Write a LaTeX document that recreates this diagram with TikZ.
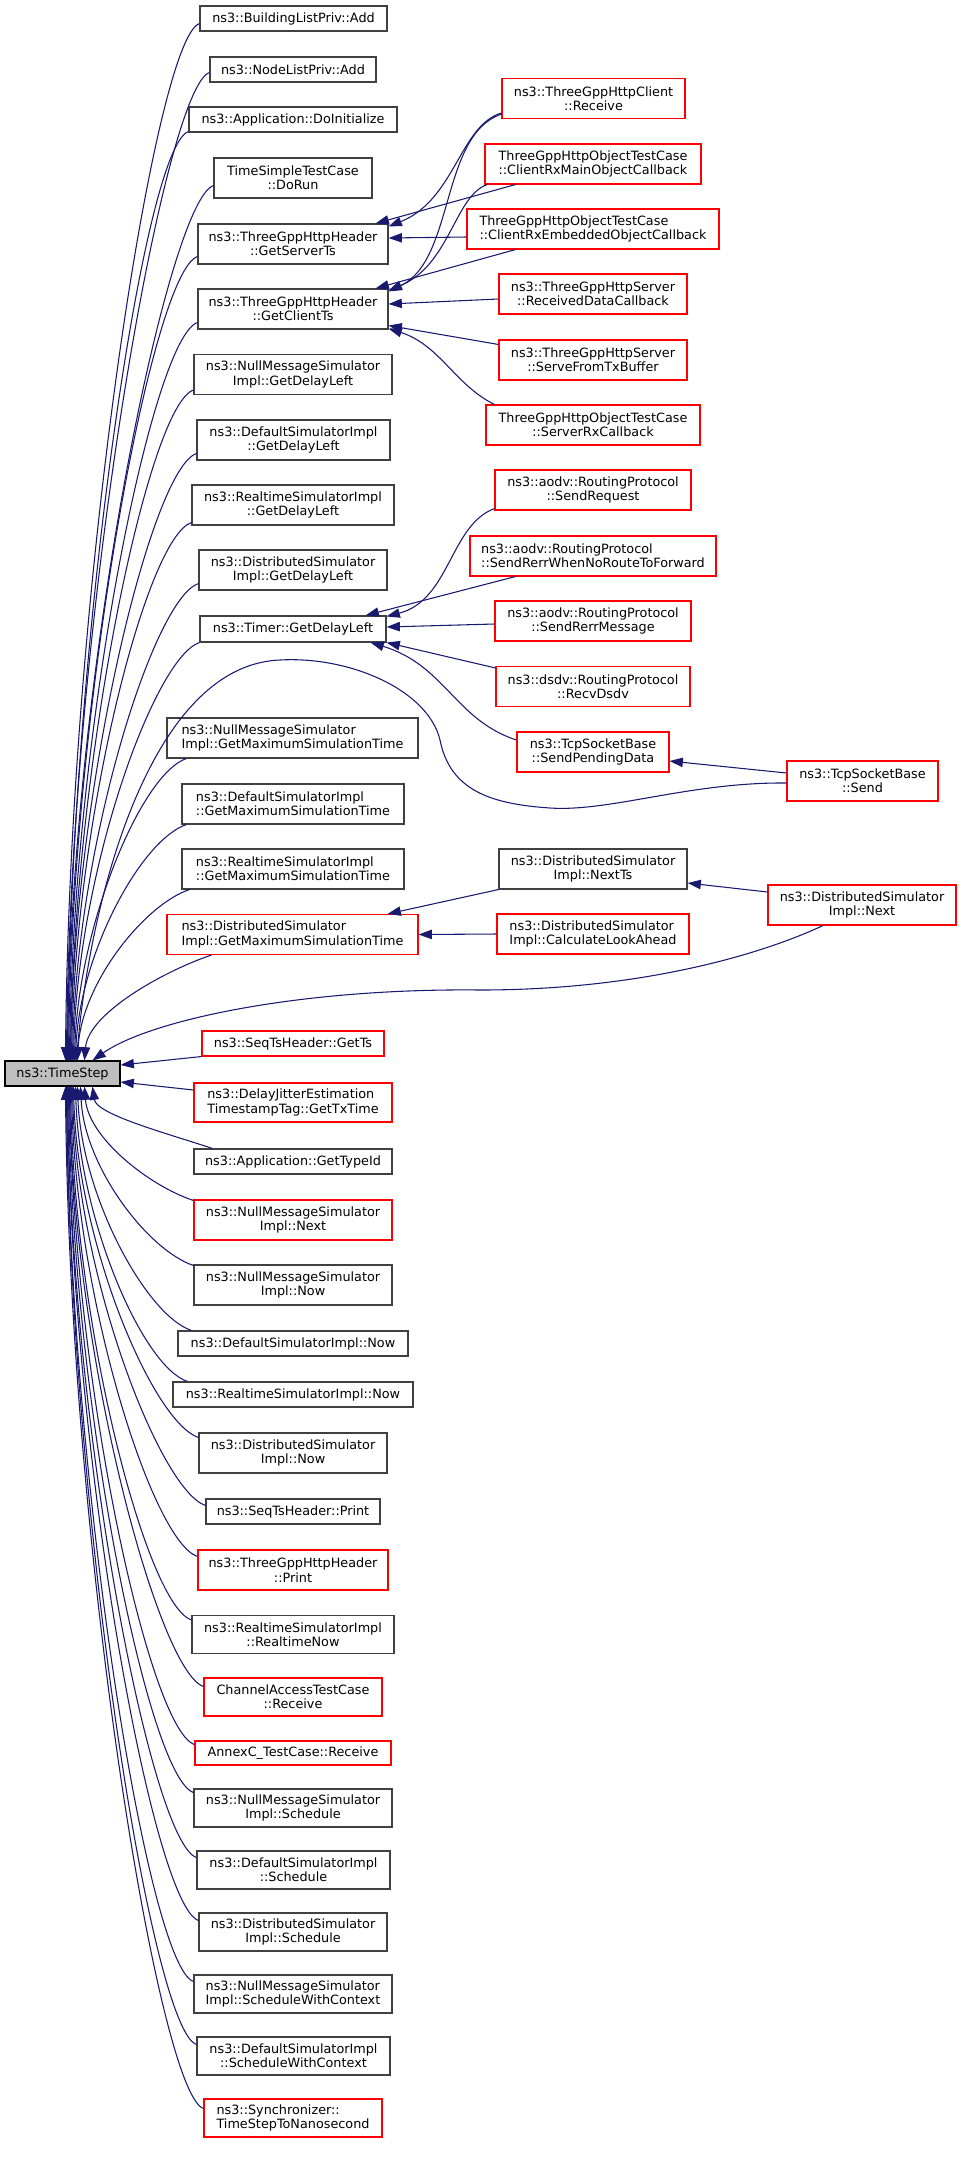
\documentclass[tikz,border=0pt]{standalone}
\usepackage{fontspec}
\setmainfont{DejaVu Sans}
\usetikzlibrary{arrows.meta,calc}

\definecolor{edgeblue}{HTML}{191970}
\definecolor{boxgray}{HTML}{404040}
\definecolor{tsfill}{HTML}{BFBFBF}

\begin{document}
\begin{tikzpicture}[x=0.75pt, y=-0.75pt,
		fn/.style={draw=boxgray, line width=0.8pt, inner sep=0pt, font=\fontsize{9.6}{10.7}\selectfont, align=center},
		trunc/.style={fn, draw=red},
		wd/.style={minimum width=#1*0.75pt},
		ht/.style={minimum height=#1*0.75pt},
		call/.style={edgeblue, line width=0.8pt, -{Triangle[length=10pt, width=7pt]}}]
		
		\useasboundingbox (0,0) rectangle (963,2171);
		
		% callee
		\node[fn, fill=tsfill, draw=black, wd=115, ht=25] (ts) at (62.5,1073.5) {ns3::TimeStep};
		
		% callers, upper half
		\node[fn, wd=187, ht=25] (bldadd) at (293.5,18.5) {ns3::BuildingListPriv::Add};
		\node[fn, wd=166, ht=25] (nodeadd) at (293,69.5) {ns3::NodeListPriv::Add};
		\node[fn, wd=208, ht=25] (appinit) at (293,119.5) {ns3::Application::DoInitialize};
		\node[fn, wd=158, ht=40] (tsrun) at (293,178) {TimeSimpleTestCase\\::DoRun};
		\node[fn, wd=190, ht=40] (getserver) at (293,244) {ns3::ThreeGppHttpHeader\\::GetServerTs};
		\node[fn, wd=190, ht=40] (getclient) at (293,309) {ns3::ThreeGppHttpHeader\\::GetClientTs};
		\node[fn, wd=198, ht=40] (nmdelay) at (293,374.5) {ns3::NullMessageSimulator\\Impl::GetDelayLeft};
		\node[fn, wd=193, ht=40] (defdelay) at (293.5,440) {ns3::DefaultSimulatorImpl\\::GetDelayLeft};
		\node[fn, wd=202, ht=40] (rtdelay) at (293,505) {ns3::RealtimeSimulatorImpl\\::GetDelayLeft};
		\node[fn, wd=188, ht=40] (dsdelay) at (293,570) {ns3::DistributedSimulator\\Impl::GetDelayLeft};
		\node[fn, wd=186, ht=26] (timer) at (293,629) {ns3::Timer::GetDelayLeft};
		\node[fn, wd=251, ht=40, align=left] (nmmax) at (292.5,738) {ns3::NullMessageSimulator\\Impl::GetMaximumSimulationTime};
		\node[fn, wd=222, ht=40, align=left] (defmax) at (293,804) {ns3::DefaultSimulatorImpl\\::GetMaximumSimulationTime};
		\node[fn, wd=222, ht=40, align=left] (rtmax) at (293,869) {ns3::RealtimeSimulatorImpl\\::GetMaximumSimulationTime};
		\node[trunc, wd=251, ht=40, align=left] (dsmax) at (292.5,934.5) {ns3::DistributedSimulator\\Impl::GetMaximumSimulationTime};
		\node[trunc, wd=182, ht=25] (getts) at (293,1043.5) {ns3::SeqTsHeader::GetTs};
		\node[trunc, wd=198, ht=39, align=left] (txtime) at (293,1102.5) {ns3::DelayJitterEstimation\\TimestampTag::GetTxTime};
		
		% callers, lower half
		\node[fn, wd=198, ht=25] (typeid) at (293,1161.5) {ns3::Application::GetTypeId};
		\node[trunc, wd=198, ht=40] (nmnext) at (293,1220) {ns3::NullMessageSimulator\\Impl::Next};
		\node[fn, wd=198, ht=40] (nmnow) at (293,1285) {ns3::NullMessageSimulator\\Impl::Now};
		\node[fn, wd=230, ht=25] (defnow) at (293,1343.5) {ns3::DefaultSimulatorImpl::Now};
		\node[fn, wd=240, ht=25] (rtnow) at (293,1394.5) {ns3::RealtimeSimulatorImpl::Now};
		\node[fn, wd=188, ht=40] (dsnow) at (293,1453) {ns3::DistributedSimulator\\Impl::Now};
		\node[fn, wd=174, ht=25] (seqprint) at (293,1511.5) {ns3::SeqTsHeader::Print};
		\node[trunc, wd=190, ht=40] (hdrprint) at (293,1570) {ns3::ThreeGppHttpHeader\\::Print};
		\node[fn, wd=202, ht=38] (rtreal) at (293,1634.5) {ns3::RealtimeSimulatorImpl\\::RealtimeNow};
		\node[trunc, wd=178, ht=38] (chanrecv) at (293,1697) {ChannelAccessTestCase\\::Receive};
		\node[trunc, wd=196, ht=24] (annex) at (293,1753) {AnnexC\_TestCase::Receive};
		\node[fn, wd=198, ht=38] (nmsched) at (293,1808) {ns3::NullMessageSimulator\\Impl::Schedule};
		\node[fn, wd=193, ht=38] (defsched) at (293.5,1870) {ns3::DefaultSimulatorImpl\\::Schedule};
		\node[fn, wd=188, ht=38] (dssched) at (293,1932) {ns3::DistributedSimulator\\Impl::Schedule};
		\node[fn, wd=198, ht=38, align=left] (nmctx) at (293,1994) {ns3::NullMessageSimulator\\Impl::ScheduleWithContext};
		\node[fn, wd=193, ht=38] (defctx) at (293.5,2056) {ns3::DefaultSimulatorImpl\\::ScheduleWithContext};
		\node[trunc, wd=178, ht=38, align=left] (syncns) at (293,2118) {ns3::Synchronizer::\\TimeStepToNanosecond};
		
		% second level
		\node[trunc, wd=183, ht=40] (crecv) at (593.5,98.5) {ns3::ThreeGppHttpClient\\::Receive};
		\node[trunc, wd=216, ht=40, align=left] (cmain) at (593,164) {ThreeGppHttpObjectTestCase\\::ClientRxMainObjectCallback};
		\node[trunc, wd=252, ht=40, align=left] (cembed) at (593,229) {ThreeGppHttpObjectTestCase\\::ClientRxEmbeddedObjectCallback};
		\node[trunc, wd=188, ht=40] (srvdata) at (593,294) {ns3::ThreeGppHttpServer\\::ReceivedDataCallback};
		\node[trunc, wd=188, ht=40] (srvtx) at (593,360) {ns3::ThreeGppHttpServer\\::ServeFromTxBuffer};
		\node[trunc, wd=214, ht=40] (srvrx) at (593,425) {ThreeGppHttpObjectTestCase\\::ServerRxCallback};
		\node[trunc, wd=196, ht=40] (sendreq) at (593,490) {ns3::aodv::RoutingProtocol\\::SendRequest};
		\node[trunc, wd=246, ht=40, align=left] (sendrerrno) at (593,556) {ns3::aodv::RoutingProtocol\\::SendRerrWhenNoRouteToForward};
		\node[trunc, wd=196, ht=40] (sendrerrmsg) at (593,621) {ns3::aodv::RoutingProtocol\\::SendRerrMessage};
		\node[trunc, wd=194, ht=40] (recvdsdv) at (593,686.5) {ns3::dsdv::RoutingProtocol\\::RecvDsdv};
		\node[trunc, wd=152, ht=40] (sendpend) at (593,752) {ns3::TcpSocketBase\\::SendPendingData};
		\node[fn, wd=188, ht=40] (nextts) at (593,869) {ns3::DistributedSimulator\\Impl::NextTs};
		\node[trunc, wd=192, ht=40, align=left] (lookahead) at (593,934) {ns3::DistributedSimulator\\Impl::CalculateLookAhead};
		
		% third level
		\node[trunc, wd=151, ht=40] (tcpsend) at (862.5,781) {ns3::TcpSocketBase\\::Send};
		\node[trunc, wd=188, ht=40] (dsnext) at (862,905) {ns3::DistributedSimulator\\Impl::Next};
		
		% edges into TimeStep from above
		\foreach \n/\ox/\oy/\tx/\hh in {bldadd/0/-8/61/467, nodeadd/0/-10/62/445, appinit/0/-1/63/418,
			tsrun/0/-13/63/394, getserver/0/-8/64/362, getclient/0/-7/65/333, nmdelay/0/-5/66/302,
			defdelay/0/-7/66/274, rtdelay/0/-3/67/243, dsdelay/0/-7/68/215, timer/0/0/69/189,
			nmmax/20/0/70/136, defmax/5/0/71/107, rtmax/8/0/73/77, dsmax/45/0/80/48}
		\draw[call] ($(\n.south west)+(\ox,\oy)$) .. controls +(-45,15) and +(4,-\hh) .. ($(ts.north west)+(\tx,0)$);
		
		% edges into TimeStep from below
		\foreach \n/\ox/\oy/\tx/\hh in {typeid/19/0/88/28, nmnext/0/1/80/51, nmnow/0/1/76/81,
			defnow/14/0/73/110, rtnow/15/0/71/133, dsnow/0/5/69/158, seqprint/0/7/68/189,
			hdrprint/0/7/67/212, rtreal/0/5/66/241, chanrecv/0/9/65/270, annex/0/4/65/297,
			nmsched/0/4/64/318, defsched/0/7/63/347, dssched/0/8/63/376, nmctx/0/7/62/403,
			defctx/0/8/62/432, syncns/0/10/61/460}
		\draw[call] ($(\n.north west)+(\ox,\oy)$) .. controls +(-45,-15) and +(4,\hh) .. ($(ts.south west)+(\tx,0)$);
		
		\draw[call] (getts.south west) -- ($(ts.east)+(0,-8.5)$);
		\draw[call] ($(txtime.west)+(0,-12.5)$) -- ($(ts.east)+(0,8.5)$);
		
		% long ones
		\draw[call] ($(tcpsend.west)+(0,2)$) .. controls (690,782) and (610,812) .. (550,808)
		.. controls (490,804) and (450,790) .. (440,740)
		.. controls (428,690) and (350,656) .. (280,660)
		.. controls (150,665) and (90,900) .. ($(ts.north west)+(72,0)$);
		\draw[call] ($(dsnext.south)+(-39,0)$) .. controls (760,955) and (640,990) .. (480,990)
		.. controls (300,988) and (150,1020) .. ($(ts.north west)+(88,0)$);
		
		% GetServerTs / GetClientTs
		\draw[call] ($(crecv.south west)+(0,-6)$) .. controls (460,125) and (455,200) .. ($(getserver.north east)+(0,3)$);
		\draw[call] ($(crecv.south west)+(0,-5)$) .. controls (440,135) and (455,260) .. ($(getclient.north east)+(0,3)$);
		\draw[call] ($(cmain.south west)+(31,0)$) -- ($(getserver.north east)+(-13,0)$);
		\draw[call] ($(cmain.south west)+(3,0)$) .. controls (455,195) and (450,265) .. ($(getclient.north east)+(0,2)$);
		\draw[call] ($(cembed.west)+(0,8)$) -- ($(getserver.east)+(0,-6)$);
		\draw[call] ($(cembed.south west)+(49,0)$) -- ($(getclient.north east)+(-13,0)$);
		\draw[call] ($(srvdata.west)+(0,5)$) -- ($(getclient.east)+(0,-5)$);
		\draw[call] ($(srvtx.north west)+(0,5)$) -- ($(getclient.south east)+(0,-4)$);
		\draw[call] ($(srvrx.north west)+(9,0)$) .. controls (455,385) and (440,345) .. ($(getclient.south east)+(0,-1)$);
		
		% Timer::GetDelayLeft
		\draw[call] ($(sendreq.south west)+(0,-2)$) .. controls (450,525) and (450,600) .. ($(timer.north east)+(0,1)$);
		\draw[call] ($(sendrerrno.south west)+(46,0)$) -- ($(timer.north east)+(-21,0)$);
		\draw[call] ($(sendrerrmsg.west)+(0,3)$) -- ($(timer.east)+(0,-2)$);
		\draw[call] ($(recvdsdv.north west)+(0,2)$) -- (timer.south east);
		\draw[call] ($(sendpend.west)+(0,-12)$) .. controls (455,720) and (445,665) .. ($(timer.south east)+(-16,0)$);
		\draw[call] ($(tcpsend.west)+(0,-8)$) -- ($(sendpend.east)+(0,9)$);
		
		% GetMaximumSimulationTime
		\draw[call] (nextts.south west) -- ($(dsmax.north east)+(-31,0)$);
		\draw[call] (lookahead.west) -- (dsmax.east);
		\draw[call] ($(dsnext.west)+(0,-13)$) -- ($(nextts.east)+(0,14)$);
		
\end{tikzpicture}
\end{document}
